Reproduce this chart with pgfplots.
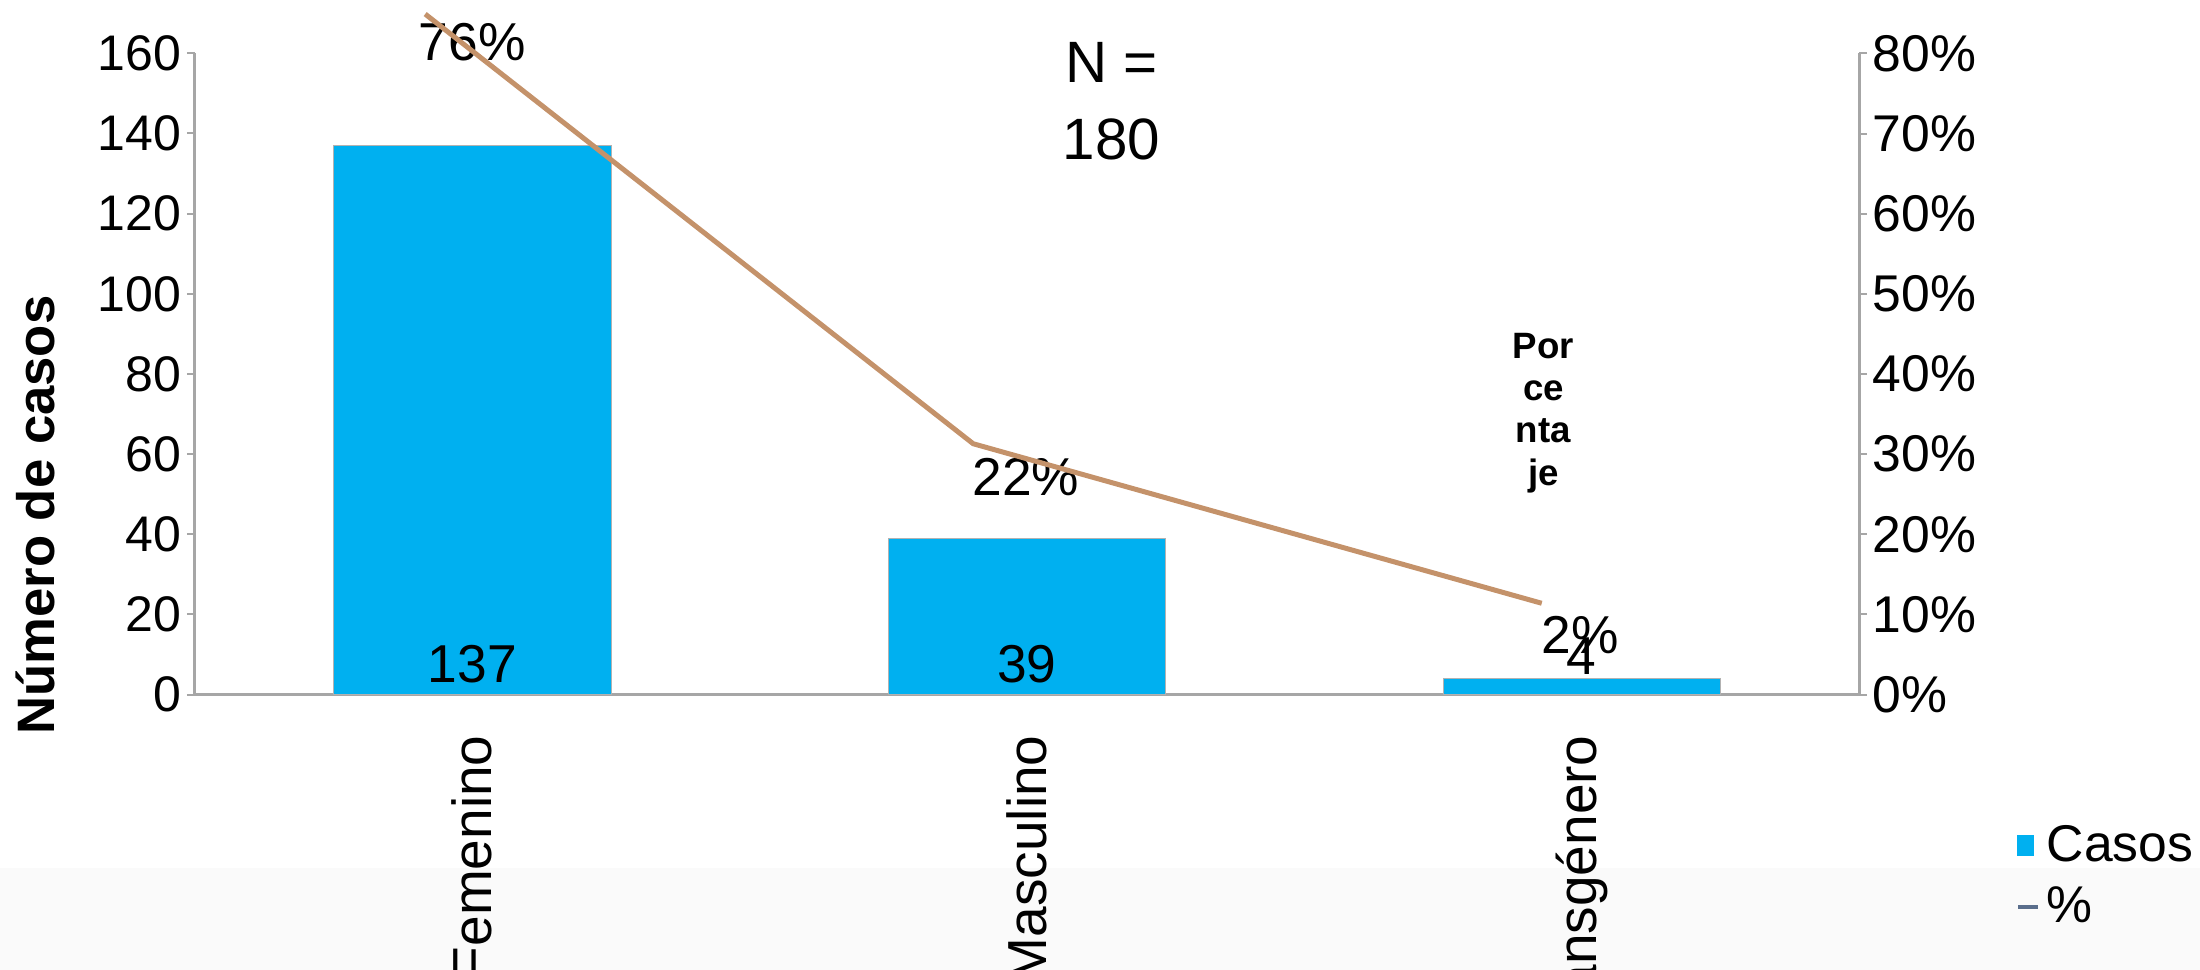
\documentclass[border=0pt]{standalone}
\usepackage{fontspec}
\setmainfont{Liberation Sans}
\usepackage{pgfplots}
\pgfplotsset{compat=1.18}
\definecolor{barblue}{RGB}{0,176,240}
\definecolor{linetan}{RGB}{196,146,106}
\definecolor{axisgray}{RGB}{166,166,166}
\definecolor{legline}{RGB}{90,110,140}
\begin{document}
\begin{tikzpicture}
\useasboundingbox (-58.5pt,-82.6pt) rectangle (601.5pt,208.4pt);
\clip (-58.5pt,-82.6pt) rectangle (601.5pt,208.4pt);
\fill[black!2] (-58.5pt,-82.6pt) rectangle (601.5pt,-52pt);
\begin{axis}[
  width=499.2pt, height=192.4pt, scale only axis,
  xmin=-0.5, xmax=2.5, ymin=0, ymax=160,
  axis y line*=left, axis x line*=bottom,
  axis line style={-, draw=axisgray, line width=0.9pt},
  xtick={0,1,2}, xticklabels={Femenino,Masculino,Transgénero},
  ytick={0,20,...,160},
  yticklabels={0,20,40,60,80,100,120,140,160},
  tick align=outside, major tick length=2.4pt,
  ytick style={draw=axisgray, line width=0.6pt},
  xtick style={draw=none},
  /pgf/number format/assume math mode=true,
  yticklabel style={font=\fontsize{15}{18}\selectfont, inner xsep=1.5pt},
  xticklabel style={rotate=90, anchor=east, font=\fontsize{16.5}{20}\selectfont, xshift=-6.3pt},
  ylabel={Número de casos},
  ylabel style={font=\bfseries\fontsize{15.8}{19}\selectfont, at={(axis description cs:-0.096,0.28)}, anchor=center},
  clip=false,
]
\addplot[ybar, bar width=0.5, fill=barblue, draw=gray!60, line width=0.3pt] coordinates {(0,137) (1,39) (2,4)};
\node[font=\fontsize{16}{19}\selectfont] at (axis cs:0,7.7) {137};
\node[font=\fontsize{16}{19}\selectfont] at (axis cs:1,7.7) {39};
\node[font=\fontsize{16}{19}\selectfont] at (axis cs:2,9.5) {4};
\node[font=\fontsize{16}{19}\selectfont] at (axis cs:0,162.8) {76\%};
\node[font=\fontsize{16}{19}\selectfont] at (axis cs:0.998,54.3) {22\%};
\node[font=\fontsize{16}{19}\selectfont] at (axis cs:1.997,15) {2\%};
\node[font=\fontsize{17.5}{23}\selectfont, align=center] at (axis cs:1.152,148) {N =\\180};
\node[font=\bfseries\fontsize{11}{12.7}\selectfont, align=center] at (axis cs:1.931,70.3) {Por\\ce\\nta\\je};
\end{axis}
\begin{axis}[
  width=499.2pt, height=192.4pt, scale only axis,
  xmin=-0.5, xmax=2.5, ymin=0, ymax=80,
  axis y line*=right, axis x line=none,
  axis line style={-, draw=axisgray, line width=0.9pt},
  ytick={0,10,...,80},
  yticklabels={0\%,10\%,20\%,30\%,40\%,50\%,60\%,70\%,80\%},
  tick align=outside, major tick length=2.4pt,
  ytick style={draw=axisgray, line width=0.6pt},
  yticklabel style={font=\fontsize{15.5}{18}\selectfont, inner xsep=1.5pt},
  clip=false,
  legend style={at={(axis description cs:1.094,-0.192)}, anchor=north west, draw=none, fill=none, inner sep=0pt, font=\fontsize{15.5}{18}\selectfont, row sep=2pt},
  legend cell align=left,
]
\addplot[linetan, line width=1.5pt, mark=none, forget plot] coordinates {(-0.085,84.9) (0.903,31.3) (1.928,11.4)};
\addlegendimage{legend image code/.code={\fill[barblue] (0pt,-3pt) rectangle (4.5pt,3pt);}}
\addlegendentry{Casos}
\addlegendimage{legend image code/.code={\draw[legline, line width=1.2pt] (0pt,0pt) -- (6pt,0pt);}}
\addlegendentry{\%}
\end{axis}
\end{tikzpicture}
\end{document}
